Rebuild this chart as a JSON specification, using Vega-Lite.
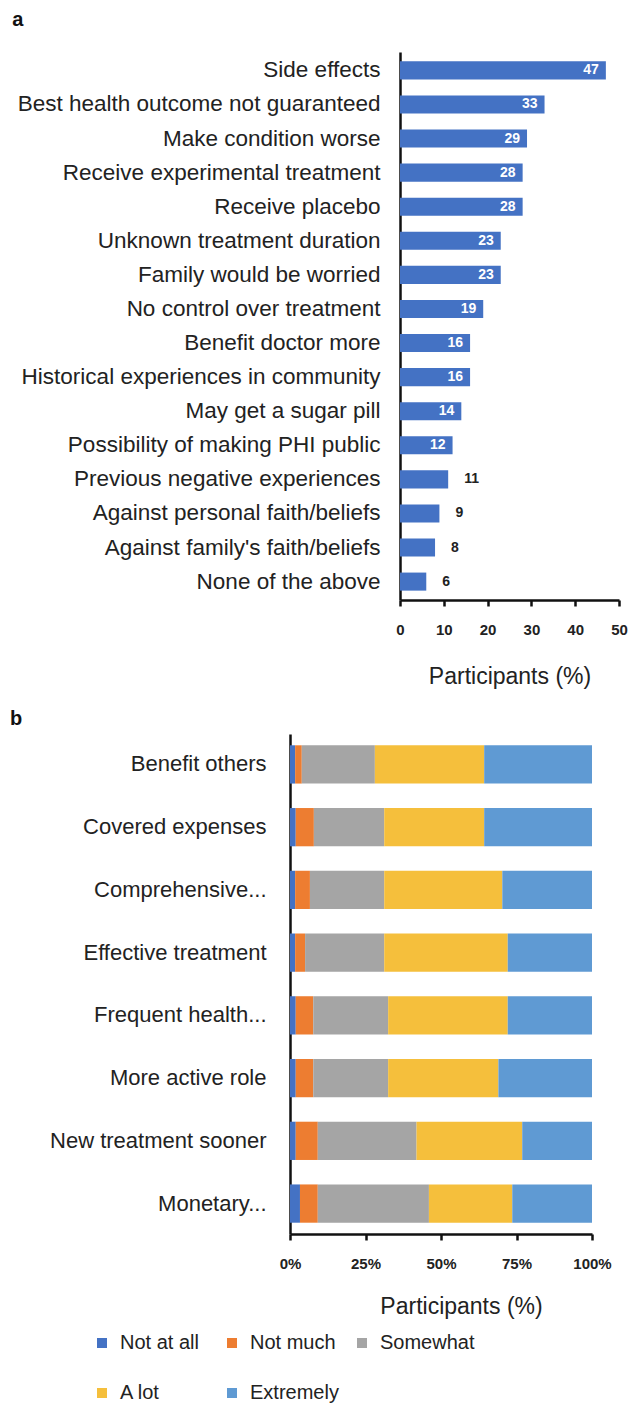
{
  "$schema": "https://vega.github.io/schema/vega-lite/v6.json",
  "background": "white",
  "padding": {"left": 10, "top": 10, "right": 0, "bottom": 5},
  "spacing": 21,
  "config": {
    "font": "Liberation Sans",
    "view": {"stroke": null},
    "axis": {
      "grid": false,
      "domainColor": "#111111",
      "domainWidth": 2.5,
      "tickColor": "#111111",
      "tickWidth": 2.5,
      "labelColor": "#222222",
      "titleColor": "#222222"
    }
  },
  "vconcat": [
    {
      "title": {"text": "a", "anchor": "start", "frame": "bounds", "fontSize": 20, "fontWeight": "bold", "color": "#111111", "offset": 22, "dx": -5},
      "width": 329,
      "height": 548,
      "data": {
        "values": [
          {"reason": "Side effects", "pct": 47},
          {"reason": "Best health outcome not guaranteed", "pct": 33},
          {"reason": "Make condition worse", "pct": 29},
          {"reason": "Receive experimental treatment", "pct": 28},
          {"reason": "Receive placebo", "pct": 28},
          {"reason": "Unknown treatment duration", "pct": 23},
          {"reason": "Family would be worried", "pct": 23},
          {"reason": "No control over treatment", "pct": 19},
          {"reason": "Benefit doctor more", "pct": 16},
          {"reason": "Historical experiences in community", "pct": 16},
          {"reason": "May get a sugar pill", "pct": 14},
          {"reason": "Possibility of making PHI public", "pct": 12},
          {"reason": "Previous negative experiences", "pct": 11},
          {"reason": "Against personal faith/beliefs", "pct": 9},
          {"reason": "Against family's faith/beliefs", "pct": 8},
          {"reason": "None of the above", "pct": 6}
        ]
      },
      "encoding": {
        "y": {
          "field": "reason",
          "type": "nominal",
          "sort": null,
          "scale": {"paddingInner": 0.47, "paddingOuter": 0.275},
          "axis": {"title": null, "ticks": false, "offset": -110, "labelFontSize": 22.5, "labelPadding": 20, "labelLimit": 400}
        },
        "x": {
          "field": "pct",
          "type": "quantitative",
          "scale": {"domain": [0, 50], "range": [110, 329]},
          "axis": {
            "values": [0, 10, 20, 30, 40, 50],
            "title": "Participants (%)",
            "tickSize": 6,
            "labelFlush": false,
            "labelFontSize": 15,
            "labelFontWeight": "bold",
            "labelPadding": 16,
            "titleFontSize": 23,
            "titleFontWeight": "normal",
            "titlePadding": 28
          }
        }
      },
      "layer": [
        {"mark": {"type": "bar", "color": "#4472C4"}},
        {
          "transform": [{"filter": "datum.pct >= 12"}],
          "mark": {"type": "text", "align": "right", "dx": -7, "color": "white", "fontWeight": "bold", "fontSize": 14},
          "encoding": {"text": {"field": "pct", "type": "quantitative"}}
        },
        {
          "transform": [{"filter": "datum.pct < 12"}],
          "mark": {"type": "text", "align": "left", "dx": 16, "color": "#222222", "fontWeight": "bold", "fontSize": 14},
          "encoding": {"text": {"field": "pct", "type": "quantitative"}}
        }
      ]
    },
    {
      "title": {"text": "b", "anchor": "start", "frame": "bounds", "fontSize": 20, "fontWeight": "bold", "color": "#111111", "offset": 5, "dx": -5},
      "width": 302,
      "height": 500,
      "data": {
        "values": [
          {"item": "Benefit others", "response": "Not at all", "level": 1, "pct": 1.7},
          {"item": "Benefit others", "response": "Not much", "level": 2, "pct": 2.2},
          {"item": "Benefit others", "response": "Somewhat", "level": 3, "pct": 24.2},
          {"item": "Benefit others", "response": "A lot", "level": 4, "pct": 36.2},
          {"item": "Benefit others", "response": "Extremely", "level": 5, "pct": 35.7},
          {"item": "Covered expenses", "response": "Not at all", "level": 1, "pct": 1.9},
          {"item": "Covered expenses", "response": "Not much", "level": 2, "pct": 6.0},
          {"item": "Covered expenses", "response": "Somewhat", "level": 3, "pct": 23.3},
          {"item": "Covered expenses", "response": "A lot", "level": 4, "pct": 33.1},
          {"item": "Covered expenses", "response": "Extremely", "level": 5, "pct": 35.7},
          {"item": "Comprehensive...", "response": "Not at all", "level": 1, "pct": 1.7},
          {"item": "Comprehensive...", "response": "Not much", "level": 2, "pct": 4.9},
          {"item": "Comprehensive...", "response": "Somewhat", "level": 3, "pct": 24.6},
          {"item": "Comprehensive...", "response": "A lot", "level": 4, "pct": 39.1},
          {"item": "Comprehensive...", "response": "Extremely", "level": 5, "pct": 29.7},
          {"item": "Effective treatment", "response": "Not at all", "level": 1, "pct": 1.7},
          {"item": "Effective treatment", "response": "Not much", "level": 2, "pct": 3.3},
          {"item": "Effective treatment", "response": "Somewhat", "level": 3, "pct": 26.2},
          {"item": "Effective treatment", "response": "A lot", "level": 4, "pct": 40.9},
          {"item": "Effective treatment", "response": "Extremely", "level": 5, "pct": 27.9},
          {"item": "Frequent health...", "response": "Not at all", "level": 1, "pct": 1.9},
          {"item": "Frequent health...", "response": "Not much", "level": 2, "pct": 5.8},
          {"item": "Frequent health...", "response": "Somewhat", "level": 3, "pct": 24.8},
          {"item": "Frequent health...", "response": "A lot", "level": 4, "pct": 39.6},
          {"item": "Frequent health...", "response": "Extremely", "level": 5, "pct": 27.9},
          {"item": "More active role", "response": "Not at all", "level": 1, "pct": 1.9},
          {"item": "More active role", "response": "Not much", "level": 2, "pct": 5.8},
          {"item": "More active role", "response": "Somewhat", "level": 3, "pct": 24.8},
          {"item": "More active role", "response": "A lot", "level": 4, "pct": 36.5},
          {"item": "More active role", "response": "Extremely", "level": 5, "pct": 31.0},
          {"item": "New treatment sooner", "response": "Not at all", "level": 1, "pct": 1.9},
          {"item": "New treatment sooner", "response": "Not much", "level": 2, "pct": 7.3},
          {"item": "New treatment sooner", "response": "Somewhat", "level": 3, "pct": 32.7},
          {"item": "New treatment sooner", "response": "A lot", "level": 4, "pct": 35.0},
          {"item": "New treatment sooner", "response": "Extremely", "level": 5, "pct": 23.1},
          {"item": "Monetary...", "response": "Not at all", "level": 1, "pct": 3.3},
          {"item": "Monetary...", "response": "Not much", "level": 2, "pct": 5.9},
          {"item": "Monetary...", "response": "Somewhat", "level": 3, "pct": 36.8},
          {"item": "Monetary...", "response": "A lot", "level": 4, "pct": 27.6},
          {"item": "Monetary...", "response": "Extremely", "level": 5, "pct": 26.4}
        ]
      },
      "mark": {"type": "bar"},
      "encoding": {
        "y": {
          "field": "item",
          "type": "nominal",
          "sort": null,
          "scale": {"paddingInner": 0.39, "paddingOuter": 0.18},
          "axis": {"title": null, "ticks": false, "labelFontSize": 22, "labelPadding": 24, "labelLimit": 300, "minExtent": 275, "maxExtent": 275}
        },
        "x": {
          "field": "pct",
          "type": "quantitative",
          "stack": "normalize",
          "axis": {
            "values": [0, 0.25, 0.5, 0.75, 1],
            "format": ".0%",
            "title": "Participants (%)",
            "tickSize": 6,
            "labelFlush": false,
            "labelFontSize": 15,
            "labelFontWeight": "bold",
            "labelPadding": 16,
            "titleFontSize": 23,
            "titleFontWeight": "normal",
            "titlePadding": 24,
            "titleX": 171
          }
        },
        "color": {
          "field": "response",
          "type": "nominal",
          "scale": {
            "domain": ["Not at all", "Not much", "Somewhat", "A lot", "Extremely"],
            "range": ["#4472C4", "#ED7D31", "#A5A5A5", "#F5BF3C", "#5F9AD3"]
          },
          "legend": {
            "title": null,
            "orient": "none",
            "legendX": -198,
            "legendY": 1281,
            "direction": "horizontal",
            "columns": 3,
            "gridAlign": "all",
            "columnPadding": 7,
            "rowPadding": 30,
            "symbolType": "square",
            "symbolSize": 100,
            "symbolStrokeWidth": 0,
            "labelFontSize": 20,
            "labelOffset": 8,
            "labelColor": "#222222"
          }
        },
        "order": {"field": "level", "type": "quantitative"}
      }
    }
  ]
}
